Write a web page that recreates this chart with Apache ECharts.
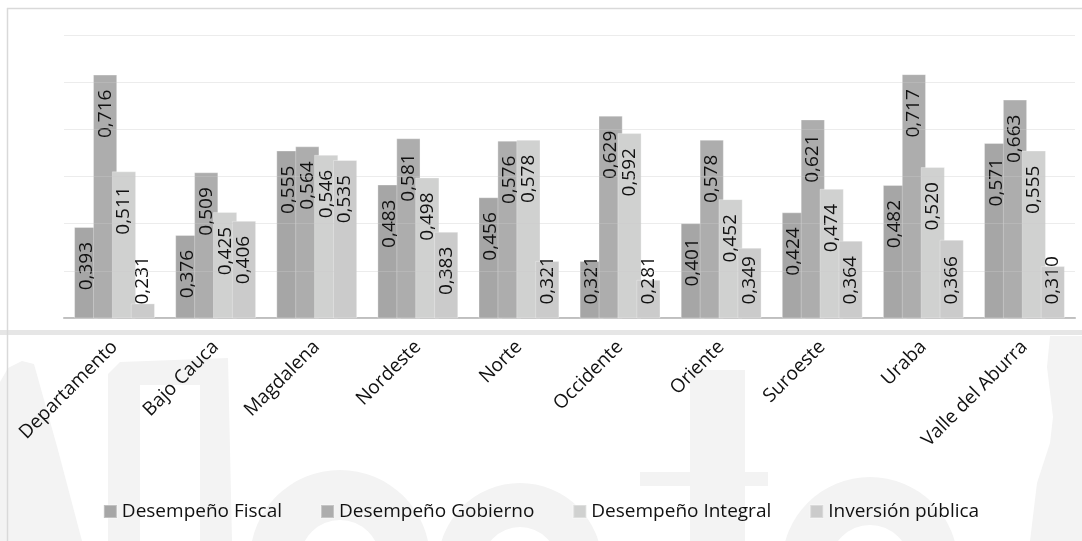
<!DOCTYPE html>
<html>
<head>
<meta charset="utf-8">
<title>Índices por subregión</title>
<script src="https://cdn.jsdelivr.net/npm/echarts@6/dist/echarts.min.js"></script>
<style>
  html, body { margin: 0; padding: 0; background: #ffffff; }
  #chart { width: 1082px; height: 541px; }
</style>
</head>
<body>
<div id="chart"></div>
<script>
// Subregions on the category axis
const categories = ['Departamento', 'Bajo Cauca', 'Magdalena', 'Nordeste', 'Norte',
  'Occidente', 'Oriente', 'Suroeste', 'Uraba', 'Valle del Aburra'];

// Index values per subregion
const desempenoFiscal   = [0.393, 0.376, 0.555, 0.483, 0.456, 0.321, 0.401, 0.424, 0.482, 0.571];
const desempenoGobierno = [0.716, 0.509, 0.564, 0.581, 0.576, 0.629, 0.578, 0.621, 0.717, 0.663];
const desempenoIntegral = [0.511, 0.425, 0.546, 0.498, 0.578, 0.592, 0.452, 0.474, 0.520, 0.555];
const inversionPublica  = [0.231, 0.406, 0.535, 0.383, 0.321, 0.281, 0.349, 0.364, 0.366, 0.310];

const seriesNames = ['Desempeño Fiscal', 'Desempeño Gobierno', 'Desempeño Integral', 'Inversión pública'];

// Value axis range and step
const yMin = 0.2, yMax = 0.8, yStep = 0.1;

const palette = ['#a6a6a6', '#adadad', '#d0d1d0', '#cbcbcb'];
const FONT = 'Open Sans';

// Values shown with a decimal comma
const fmt = v => v.toFixed(3).replace('.', ',');

// Labels sit just inside the bar end; short bars keep the label near the base instead
function barData(values) {
  return values.map(v => {
    if (v - yMin < 0.17) {
      return { value: v, label: { position: 'insideBottom', align: 'left', distance: 14 } };
    }
    return v;
  });
}

function barSeries(name, values, color) {
  return {
    name: name,
    type: 'bar',
    data: barData(values),
    barGap: '-22%',
    barCategoryGap: '20%',
    itemStyle: { color: color, borderColor: 'rgba(255,255,255,0.3)', borderWidth: 1 },
    emphasis: { disabled: true },
    label: {
      show: true,
      position: 'insideTop',
      rotate: 90,
      align: 'right',
      verticalAlign: 'middle',
      distance: 15,
      fontFamily: FONT,
      fontSize: 19,
      color: '#111111',
      formatter: p => fmt(p.value)
    }
  };
}

// Faint background artwork behind the whole figure
const wm = '#f3f3f3';
const arch = (cx, cy, r, r0) => ({
  type: 'sector', z: -10, silent: true,
  shape: { cx: cx, cy: cy, r: r, r0: r0, startAngle: Math.PI, endAngle: 2 * Math.PI, clockwise: true },
  style: { fill: wm }
});
const backdrop = [
  { type: 'polygon', z: -10, silent: true,
    shape: { points: [[0, 382], [8, 368], [22, 361], [34, 364], [58, 450], [82, 541], [0, 541]] },
    style: { fill: wm } },
  { type: 'polygon', z: -10, silent: true,
    shape: { points: [[108, 374], [120, 362], [228, 358], [232, 541], [200, 541], [200, 385], [140, 385], [140, 541], [108, 541]] },
    style: { fill: wm } },
  arch(340, 560, 90, 40),
  arch(520, 565, 82, 38),
  { type: 'rect', z: -10, silent: true, shape: { x: 690, y: 370, width: 55, height: 171 }, style: { fill: wm } },
  { type: 'rect', z: -10, silent: true, shape: { x: 640, y: 472, width: 128, height: 14 }, style: { fill: wm } },
  arch(870, 565, 88, 40),
  { type: 'polygon', z: -10, silent: true,
    shape: { points: [[1050, 336], [1082, 336], [1082, 541], [1030, 541], [1037, 483], [1050, 443], [1053, 417], [1047, 367]] },
    style: { fill: wm } },
  // frame and separator band
  { type: 'rect', z: -5, silent: true, shape: { x: 0, y: 330, width: 1082, height: 5 }, style: { fill: '#e6e6e6' } },
  { type: 'line', z: -5, silent: true, shape: { x1: 7, y1: 8.5, x2: 1082, y2: 8.5 }, style: { stroke: '#d9d9d9', lineWidth: 1.5 } },
  { type: 'line', z: -5, silent: true, shape: { x1: 7.5, y1: 8, x2: 7.5, y2: 541 }, style: { stroke: '#d9d9d9', lineWidth: 1.5 } }
];

const chart = echarts.init(document.getElementById('chart'), null, { renderer: 'canvas' });

chart.setOption({
  animation: false,
  backgroundColor: '#ffffff',
  color: palette,
  textStyle: { fontFamily: FONT },
  graphic: backdrop,
  grid: { left: 64, right: 7, top: 35, bottom: 223, containLabel: false },
  legend: {
    data: seriesNames,
    bottom: 15,
    left: 'center',
    icon: 'rect',
    itemWidth: 13,
    itemHeight: 13,
    itemGap: 38,
    textStyle: { fontFamily: FONT, fontSize: 19, color: '#111111' },
    selectedMode: false
  },
  xAxis: {
    type: 'category',
    data: categories,
    axisLine: { show: true, lineStyle: { color: '#bfbfbf', width: 2 } },
    axisTick: { show: false },
    axisLabel: {
      rotate: 45,
      margin: 26,
      interval: 0,
      fontFamily: FONT,
      fontSize: 19,
      color: '#111111'
    }
  },
  yAxis: [
    {
      type: 'value',
      min: yMin, max: yMax, interval: yStep,
      axisLine: { show: false }, axisTick: { show: false }, axisLabel: { show: false },
      splitLine: { show: false }
    },
    {
      // grid lines drawn over the bars
      type: 'value',
      min: yMin, max: yMax, interval: yStep,
      z: 5,
      axisLine: { show: false }, axisTick: { show: false }, axisLabel: { show: false },
      splitLine: { show: true, lineStyle: { color: 'rgba(202,202,202,0.36)', width: 1 } }
    }
  ],
  series: [
    barSeries(seriesNames[0], desempenoFiscal, palette[0]),
    barSeries(seriesNames[1], desempenoGobierno, palette[1]),
    barSeries(seriesNames[2], desempenoIntegral, palette[2]),
    barSeries(seriesNames[3], inversionPublica, palette[3])
  ]
});
</script>
</body>
</html>
